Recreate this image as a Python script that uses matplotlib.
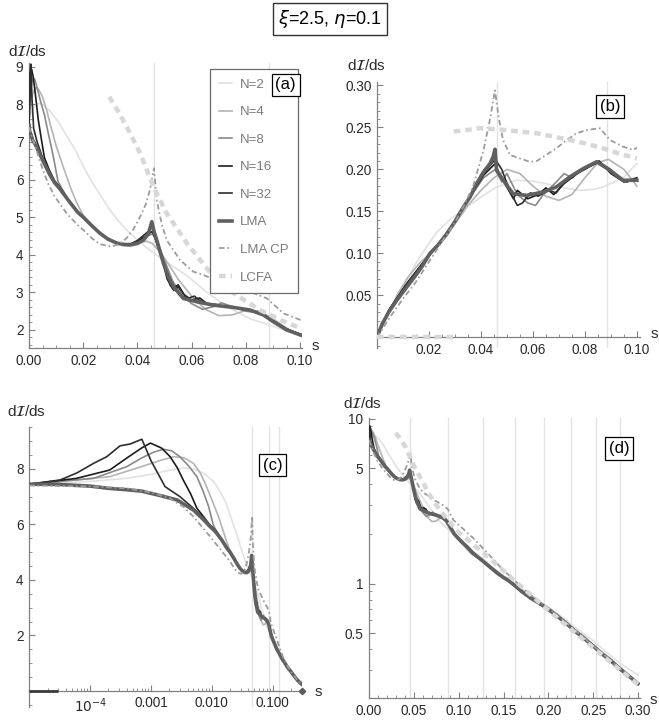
import matplotlib
matplotlib.use("Agg")
import matplotlib.pyplot as plt
from matplotlib.lines import Line2D
from matplotlib.ticker import MultipleLocator, FixedLocator, NullFormatter, FixedFormatter, LogLocator

plt.rcParams['font.family'] = ['Liberation Sans', 'DejaVu Sans']
plt.rcParams['mathtext.fontset'] = 'dejavusans'

# ---------------------------------------------------------------- data
labels = ["N=2", "N=4", "N=8", "N=16", "N=32", "LMA", "LMA CP", "LCFA"]

# harmonic edges
edges = [0.0462, 0.0884, 0.1270, 0.1624, 0.1951, 0.2254, 0.2534, 0.2795, 0.3038]

# spectrum dI/ds (panels a, c, d)
n2_s = [1e-5, 1e-4, 4e-4, 1e-3, 2e-3, 3.4e-3, 5e-3, 7.5e-3, 0.0108, 0.014, 0.017, 0.02, 0.0231,
        0.0262, 0.0293, 0.0324, 0.0354, 0.0391, 0.0446, 0.0508, 0.0582, 0.0656, 0.073, 0.0815,
        0.09, 0.1, 0.11, 0.12, 0.13, 0.14, 0.15, 0.16, 0.17, 0.18, 0.19, 0.2, 0.21, 0.22, 0.23,
        0.24, 0.25, 0.26, 0.27, 0.28, 0.29, 0.3]
n2_y = [7.45, 7.55, 7.66, 7.8, 7.95, 8.03, 8.0, 7.84, 7.54, 7.15, 6.8, 6.35, 5.95,
        5.6, 5.25, 4.95, 4.7, 4.45, 4.12, 3.8, 3.45, 3.0, 2.62, 2.3,
        2.1, 1.85, 1.68, 1.52, 1.37, 1.23, 1.12, 1.03, 0.93, 0.85, 0.78, 0.72, 0.66, 0.6, 0.545,
        0.495, 0.45, 0.405, 0.365, 0.33, 0.303, 0.28]

n4_s = [1e-5, 2.1e-4, 7e-4, 1.5e-3, 2.4e-3, 3.5e-3, 5e-3, 6.5e-3, 7.8e-3, 0.01, 0.0129, 0.0155,
        0.0178, 0.02, 0.0235, 0.0262, 0.029, 0.0324, 0.036, 0.0405, 0.0434, 0.0455, 0.048, 0.051,
        0.055, 0.06, 0.065, 0.07, 0.075, 0.08, 0.085, 0.09, 0.095, 0.1,
        0.105, 0.11, 0.115, 0.12, 0.125, 0.13, 0.135, 0.14, 0.145, 0.15, 0.155, 0.16, 0.165, 0.17,
        0.175, 0.18, 0.185, 0.19, 0.195, 0.2, 0.21, 0.22, 0.23, 0.24, 0.25, 0.26, 0.27, 0.28, 0.29, 0.3]
n4_y = [7.45, 7.72, 8.08, 8.32, 8.44, 8.4, 8.2, 7.85, 7.48, 6.9, 6.28, 5.75,
        5.35, 5.05, 4.75, 4.57, 4.43, 4.32, 4.3, 4.33, 4.36, 4.3, 4.1, 3.8,
        3.35, 2.9, 2.55, 2.38, 2.4, 2.52, 2.5, 2.3, 2.05, 1.84,
        1.72, 1.6, 1.5, 1.45, 1.42, 1.35, 1.25, 1.17, 1.12, 1.1, 1.07, 1.02, 0.95, 0.89,
        0.87, 0.85, 0.82, 0.78, 0.745, 0.715, 0.655, 0.585, 0.525, 0.48, 0.425, 0.385, 0.35, 0.31, 0.278, 0.25]

n8_s = [1e-5, 1.14e-4, 4e-4, 7e-4, 1.1e-3, 1.6e-3, 2.2e-3, 3e-3, 4.2e-3, 5.7e-3, 7.2e-3, 8.9e-3,
        0.0107, 0.0145, 0.02, 0.0262, 0.0324, 0.0373, 0.041, 0.0435, 0.0455, 0.047, 0.05, 0.053,
        0.056, 0.06, 0.064, 0.068, 0.071, 0.075, 0.08, 0.085, 0.09, 0.095, 0.1,
        0.105, 0.11, 0.115, 0.12, 0.125, 0.13, 0.135, 0.14, 0.145, 0.15, 0.155, 0.16, 0.165, 0.17,
        0.175, 0.18, 0.185, 0.19, 0.195, 0.2, 0.21, 0.22, 0.23, 0.24, 0.25, 0.26, 0.27, 0.28, 0.29, 0.3]
n8_y = [7.45, 7.66, 8.08, 8.39, 8.6, 8.71, 8.65, 8.44, 8.1, 7.72, 7.2, 6.64,
        5.95, 5.45, 5.0, 4.57, 4.3, 4.27, 4.38, 4.5, 4.55, 4.4, 3.85, 3.3,
        2.95, 2.7, 2.55, 2.62, 2.72, 2.62, 2.5, 2.45, 2.25, 2.02, 1.88,
        1.76, 1.64, 1.56, 1.48, 1.38, 1.34, 1.28, 1.19, 1.13, 1.1, 1.04, 0.99, 0.96, 0.91,
        0.86, 0.83, 0.8, 0.76, 0.725, 0.7, 0.64, 0.57, 0.52, 0.47, 0.415, 0.38, 0.345, 0.305, 0.277, 0.25]

n16_s = [1e-5, 6e-5, 2.1e-4, 4e-4, 7e-4, 9.8e-4, 1.5e-3, 2.07e-3, 2.7e-3, 3.4e-3, 4.5e-3, 5.7e-3,
         0.0075, 0.0094, 0.0114, 0.0145, 0.0178, 0.02, 0.0235, 0.0262, 0.029, 0.0324, 0.035, 0.0373,
         0.04, 0.042, 0.044, 0.0455, 0.047, 0.049, 0.051, 0.053, 0.055, 0.058, 0.06, 0.063, 0.066,
         0.07, 0.074, 0.078, 0.082, 0.086, 0.09, 0.095, 0.1,
         0.105, 0.11, 0.115, 0.12, 0.125, 0.13, 0.135, 0.14, 0.145, 0.15, 0.155, 0.16, 0.165, 0.17,
         0.175, 0.18, 0.185, 0.19, 0.195, 0.2, 0.21, 0.22, 0.23, 0.24, 0.25, 0.26, 0.27, 0.28, 0.29, 0.3]
n16_y = [7.45, 7.66, 7.96, 8.39, 8.75, 8.93, 8.75, 8.44, 8.05, 7.6, 7.1, 6.58,
         6.25, 5.97, 5.8, 5.47, 5.16, 5.0, 4.76, 4.58, 4.43, 4.31, 4.27, 4.27,
         4.35, 4.45, 4.55, 4.62, 4.35, 3.9, 3.35, 3.1, 3.2, 2.85, 2.8, 2.85, 2.68,
         2.65, 2.62, 2.56, 2.52, 2.4, 2.24, 2.02, 1.89,
         1.77, 1.67, 1.54, 1.46, 1.41, 1.32, 1.27, 1.19, 1.15, 1.08, 1.05, 0.99, 0.96, 0.89,
         0.87, 0.81, 0.8, 0.75, 0.735, 0.69, 0.64, 0.57, 0.52, 0.46, 0.425, 0.37, 0.345, 0.3, 0.278, 0.247]

n32_s = [1e-5, 3.2e-5, 6e-5, 1.14e-4, 1.88e-4, 3.1e-4, 4.6e-4, 7.1e-4, 1.0e-3, 1.71e-3, 3e-3, 5e-3,
         0.0075, 0.0094, 0.0114, 0.0145, 0.0178, 0.02, 0.0235, 0.0262, 0.029, 0.0324, 0.035, 0.0373,
         0.04, 0.042, 0.044, 0.0455, 0.0465, 0.048, 0.05, 0.052, 0.0535, 0.055, 0.057, 0.059, 0.061,
         0.063, 0.066, 0.069, 0.072, 0.075, 0.078, 0.082, 0.086, 0.09, 0.095, 0.1,
         0.105, 0.11, 0.115, 0.12, 0.125, 0.13, 0.135, 0.14, 0.145, 0.15, 0.155, 0.16, 0.165, 0.17,
         0.175, 0.18, 0.185, 0.19, 0.195, 0.2, 0.21, 0.22, 0.23, 0.24, 0.25, 0.26, 0.27, 0.28, 0.29, 0.3]
n32_y = [7.45, 7.6, 7.85, 8.2, 8.44, 8.83, 8.9, 9.07, 8.3, 7.36, 7.0, 6.58,
         6.2, 5.95, 5.78, 5.45, 5.15, 5.0, 4.75, 4.58, 4.43, 4.31, 4.27, 4.28,
         4.38, 4.5, 4.62, 4.78, 4.45, 4.1, 3.7, 3.2, 3.05, 3.15, 2.95, 2.85, 2.9,
         2.78, 2.7, 2.68, 2.62, 2.6, 2.58, 2.52, 2.42, 2.25, 2.03, 1.88,
         1.75, 1.65, 1.56, 1.46, 1.39, 1.34, 1.25, 1.21, 1.13, 1.1, 1.04, 1.01, 0.94, 0.9,
         0.85, 0.83, 0.78, 0.765, 0.72, 0.705, 0.63, 0.58, 0.51, 0.47, 0.415, 0.38, 0.335, 0.308, 0.272, 0.249]

lma_s = [1e-5, 3e-5, 1e-4, 2e-4, 4e-4, 7e-4, 1.3e-3, 2.7e-3, 5e-3, 7.5e-3, 9.4e-3, 0.0114, 0.0145,
         0.0178, 0.02, 0.0235, 0.0262, 0.029, 0.0324, 0.035, 0.0373, 0.04, 0.0422, 0.044, 0.0453,
         0.0462, 0.0475, 0.0496, 0.0515, 0.0533, 0.0569, 0.0619, 0.068, 0.0754, 0.0815, 0.0865,
         0.0901, 0.0951, 0.1,
         0.105, 0.11, 0.115, 0.12, 0.125, 0.13, 0.135, 0.14, 0.145, 0.15, 0.155, 0.16, 0.165, 0.17,
         0.175, 0.18, 0.185, 0.19, 0.195, 0.2, 0.21, 0.22, 0.23, 0.24, 0.25, 0.26, 0.27, 0.28, 0.29, 0.3]
lma_y = [7.45, 7.44, 7.38, 7.3, 7.25, 7.2, 7.06, 6.88, 6.52, 6.15, 5.92, 5.75, 5.45,
         5.14, 5.0, 4.75, 4.57, 4.42, 4.31, 4.27, 4.26, 4.3, 4.39, 4.55, 4.88,
         4.6, 4.3, 3.77, 3.4, 3.15, 2.84, 2.75, 2.66, 2.6, 2.53, 2.4,
         2.22, 2.0, 1.87,
         1.76, 1.66, 1.55, 1.47, 1.40, 1.33, 1.26, 1.20, 1.14, 1.09, 1.05, 1.00, 0.95, 0.90,
         0.86, 0.82, 0.79, 0.76, 0.73, 0.70, 0.635, 0.575, 0.515, 0.465, 0.42, 0.375, 0.34, 0.305, 0.275, 0.248]

lmacp_s = [1e-5, 1e-4, 4e-4, 1e-3, 2e-3, 3.5e-3, 5e-3, 7e-3, 9.4e-3, 0.0139, 0.0178, 0.02, 0.0235,
           0.0262, 0.03, 0.033, 0.036, 0.0385, 0.041, 0.043, 0.0446, 0.0461, 0.0471, 0.049, 0.0508,
           0.0557, 0.0606, 0.0644, 0.073, 0.0815, 0.0877, 0.0939, 0.1,
           0.105, 0.11, 0.115, 0.12, 0.13, 0.14, 0.15, 0.16, 0.17, 0.18, 0.19, 0.2, 0.21, 0.22,
           0.23, 0.24, 0.25, 0.26, 0.27, 0.28, 0.29, 0.3]
lmacp_y = [7.4, 7.37, 7.3, 7.15, 6.95, 6.62, 6.28, 5.9, 5.56, 5.1, 4.8, 4.66, 4.42,
           4.28, 4.22, 4.27, 4.44, 4.68, 5.01, 5.33, 5.72, 6.3, 5.46, 4.8, 4.39,
           3.86, 3.55, 3.46, 3.2, 3.02, 2.84, 2.44, 2.27,
           2.15, 2.02, 1.92, 1.8, 1.58, 1.38, 1.2, 1.08, 0.95, 0.86, 0.78, 0.71, 0.64, 0.58,
           0.52, 0.47, 0.42, 0.38, 0.34, 0.305, 0.275, 0.25]

lcfa_s = [0.0296, 0.033, 0.036, 0.041, 0.0459, 0.0508, 0.0582, 0.068, 0.0754, 0.0852, 0.0926, 0.1,
          0.11, 0.12, 0.13, 0.14, 0.15, 0.16, 0.17, 0.18, 0.19, 0.2, 0.22, 0.24, 0.26, 0.28, 0.3]
lcfa_y = [8.2, 7.8, 7.41, 6.7, 5.81, 5.1, 4.31, 3.42, 2.98, 2.53, 2.27, 2.05,
          1.85, 1.66, 1.5, 1.34, 1.2, 1.07, 0.96, 0.86, 0.77, 0.69, 0.56, 0.455, 0.37, 0.3, 0.245]

# second quantity (panel b)
n2b_s = [0, 0.005, 0.01, 0.0153, 0.02, 0.023, 0.028, 0.0332, 0.04, 0.046, 0.0537, 0.06, 0.065,
         0.072, 0.078, 0.083, 0.087, 0.0947, 0.1]
n2b_y = [0, 0.03, 0.058, 0.09, 0.112, 0.125, 0.14, 0.152, 0.167, 0.179, 0.187, 0.186, 0.183,
         0.178, 0.175, 0.176, 0.179, 0.19, 0.207]
n4b_s = [0, 0.004, 0.008, 0.012, 0.016, 0.02, 0.025, 0.03, 0.035, 0.04, 0.045, 0.05, 0.055,
         0.06, 0.065, 0.07, 0.075, 0.08, 0.085, 0.089, 0.095, 0.1]
n4b_y = [0, 0.026, 0.052, 0.072, 0.087, 0.099, 0.115, 0.135, 0.157, 0.175, 0.19, 0.2, 0.195,
         0.18, 0.168, 0.163, 0.17, 0.19, 0.208, 0.212, 0.2, 0.18]
n8b_s = [0, 0.0045, 0.011, 0.0175, 0.0235, 0.03, 0.0358, 0.041, 0.0455, 0.048, 0.05, 0.054,
         0.058, 0.061, 0.064, 0.069, 0.072, 0.075, 0.079, 0.085, 0.09, 0.095, 0.1]
n8b_y = [0, 0.032, 0.062, 0.088, 0.11, 0.138, 0.167, 0.19, 0.2, 0.185, 0.195, 0.17,
         0.16, 0.157, 0.17, 0.185, 0.195, 0.19, 0.2, 0.21, 0.2, 0.185, 0.188]
n16b_s = [0, 0.0045, 0.011, 0.0175, 0.0235, 0.03, 0.0358, 0.041, 0.0455, 0.047, 0.0525, 0.054,
          0.058, 0.062, 0.065, 0.068, 0.072, 0.077, 0.08, 0.0855, 0.09, 0.095, 0.1]
n16b_y = [0, 0.032, 0.062, 0.088, 0.11, 0.138, 0.167, 0.193, 0.207, 0.195, 0.165, 0.175,
          0.165, 0.17, 0.178, 0.17, 0.183, 0.195, 0.2, 0.21, 0.195, 0.185, 0.19]
n32b_s = [0, 0.0045, 0.011, 0.0175, 0.0235, 0.03, 0.0358, 0.041, 0.0455, 0.048, 0.051, 0.054,
          0.056, 0.059, 0.062, 0.066, 0.069, 0.072, 0.075, 0.079, 0.083, 0.085, 0.09, 0.093, 0.096, 0.1]
n32b_y = [0, 0.032, 0.062, 0.088, 0.11, 0.138, 0.167, 0.195, 0.212, 0.2, 0.175, 0.157,
          0.16, 0.172, 0.168, 0.175, 0.172, 0.185, 0.19, 0.2, 0.205, 0.208, 0.198, 0.19, 0.185, 0.188]
lmab_s = [0, 0.002, 0.0045, 0.0076, 0.011, 0.014, 0.0175, 0.0204, 0.0235, 0.0268, 0.03, 0.0332,
          0.0358, 0.0383, 0.041, 0.0435, 0.0447, 0.0454, 0.046, 0.0486, 0.0524, 0.0575, 0.064,
          0.069, 0.0742, 0.0794, 0.0845, 0.0896, 0.0947, 0.1]
lmab_y = [0, 0.016, 0.03, 0.044, 0.058, 0.07, 0.085, 0.1, 0.11, 0.123, 0.138, 0.155,
          0.167, 0.183, 0.197, 0.207, 0.215, 0.224, 0.199, 0.187, 0.171, 0.169, 0.173,
          0.179, 0.191, 0.201, 0.209, 0.199, 0.187, 0.187]
lmacpb_s = [0, 0.005, 0.01, 0.015, 0.02, 0.025, 0.03, 0.0335, 0.037, 0.041, 0.0435, 0.0454,
            0.0468, 0.0485, 0.0512, 0.0588, 0.0615, 0.065, 0.069, 0.073, 0.0768, 0.081, 0.0858,
            0.0896, 0.0947, 0.0986, 0.1]
lmacpb_y = [0, 0.024, 0.046, 0.066, 0.09, 0.114, 0.137, 0.157, 0.18, 0.223, 0.26, 0.294,
            0.262, 0.235, 0.217, 0.209, 0.21, 0.217, 0.225, 0.235, 0.243, 0.247, 0.249,
            0.235, 0.227, 0.223, 0.226]
lcfab_zero_s = [0.0, 0.0295]
lcfab_s = [0.0295, 0.035, 0.0396, 0.045, 0.0486, 0.055, 0.0614, 0.068, 0.0742, 0.08, 0.087, 0.093, 0.1]
lcfab_y = [0.245, 0.247, 0.249, 0.248, 0.247, 0.245, 0.243, 0.239, 0.235, 0.231, 0.225, 0.219, 0.213]

# low-s stub on the log axis of panel (c)
origin_stub_s = [1e-5, 3e-5]

# ---------------------------------------------------------------- styles
styles = {
    "N=2":    dict(color="#e2e2e2", lw=1.2),
    "N=4":    dict(color="#b4b4b4", lw=1.2),
    "N=8":    dict(color="#8a8a8a", lw=1.2),
    "N=16":   dict(color="#1c1c1c", lw=1.2),
    "N=32":   dict(color="#2e2e2e", lw=1.2),
    "LMA":    dict(color="#606060", lw=2.6),
    "LMA CP": dict(color="#9c9c9c", lw=1.3, dashes=(3.0, 1.6, 0.9, 1.6)),
    "LCFA":   dict(color="#d7d7d7", lw=3.2, dashes=(1.5, 1.1)),
}

spec = {
    "N=2": (n2_s, n2_y), "N=4": (n4_s, n4_y), "N=8": (n8_s, n8_y),
    "N=16": (n16_s, n16_y), "N=32": (n32_s, n32_y), "LMA": (lma_s, lma_y),
    "LMA CP": (lmacp_s, lmacp_y), "LCFA": (lcfa_s, lcfa_y),
}
spec_b = {
    "N=2": (n2b_s, n2b_y), "N=4": (n4b_s, n4b_y), "N=8": (n8b_s, n8b_y),
    "N=16": (n16b_s, n16b_y), "N=32": (n32b_s, n32b_y), "LMA": (lmab_s, lmab_y),
    "LMA CP": (lmacpb_s, lmacpb_y), "LCFA": (lcfab_s, lcfab_y),
}

AXC = "#808080"
TXC = "#2a2a2a"

W, H = 659, 720
fig = plt.figure(figsize=(W / 100, H / 100), dpi=100)


def px_axes(l, t, r, b):
    return fig.add_axes([l / W, 1 - b / H, (r - l) / W, (b - t) / H])


def style_axes(ax, zero_x_axis=False):
    ax.patch.set_alpha(0)
    for sp in ("top", "right"):
        ax.spines[sp].set_visible(False)
    for sp in ("left", "bottom"):
        ax.spines[sp].set_color(AXC)
        ax.spines[sp].set_linewidth(0.9)
    if zero_x_axis:
        ax.spines["bottom"].set_position(("data", 0))
    ax.tick_params(which="major", direction="in", length=4.5, width=0.8, color=AXC,
                   labelsize=9.8, labelcolor=TXC, pad=4)
    ax.tick_params(which="minor", direction="in", length=2.5, width=0.6, color=AXC)


def draw_edges(ax, vals):
    for e in vals:
        ax.axvline(e, color="#e2e2e2", lw=1.0, zorder=0)


def draw_series(ax, data, names=labels):
    for k, name in enumerate(labels):
        if name not in names:
            continue
        s, y = data[name]
        ax.plot(s, y, solid_joinstyle="round", zorder=2 + k, **styles[name])


def tag(ax, text, x, y):
    ax.text(x, y, text, transform=ax.transAxes, fontsize=12, color="black",
            ha="center", va="center", zorder=20,
            bbox=dict(boxstyle="square,pad=0.22", fc="white", ec="black", lw=0.9))


def ylabel(x, y):
    fig.text(x / W, 1 - y / H, r"d$\mathcal{I}$/ds", fontsize=11, color=TXC,
             ha="left", va="center")


def slabel(x, y):
    fig.text(x / W, 1 - y / H, "s", fontsize=11, color=TXC, ha="left", va="center")


# ---------------------------------------------------------------- (a)
ax_a = px_axes(29, 63, 302, 348)
style_axes(ax_a)
ax_a.set_xlim(0, 0.1007)
ax_a.set_ylim(1.52, 9.1)
draw_edges(ax_a, edges[:2])
draw_series(ax_a, spec)
ax_a.xaxis.set_major_locator(FixedLocator([0, 0.02, 0.04, 0.06, 0.08, 0.1]))
ax_a.xaxis.set_major_formatter(FixedFormatter(["0.00", "0.02", "0.04", "0.06", "0.08", "0.10"]))
ax_a.xaxis.set_minor_locator(MultipleLocator(0.005))
ax_a.yaxis.set_major_locator(FixedLocator([2, 3, 4, 5, 6, 7, 8, 9]))
ax_a.yaxis.set_minor_locator(MultipleLocator(0.2))
handles = [Line2D([], [], **styles[n]) for n in labels]
leg = ax_a.legend(handles, labels, loc="upper right", bbox_to_anchor=(0.985, 0.978),
                  fontsize=9.5, labelcolor="#7a7a7a", frameon=True, fancybox=False,
                  edgecolor="#6a6a6a", framealpha=1, handlelength=1.0, handletextpad=0.6,
                  labelspacing=1.16, borderpad=0.7, borderaxespad=0)
leg.get_frame().set_linewidth(0.9)
leg.set_zorder(15)
tag(ax_a, "(a)", 0.94, 0.923)
ylabel(8, 52)
slabel(312, 346)

# ---------------------------------------------------------------- (b)
ax_b = px_axes(377, 82, 640, 348)
style_axes(ax_b, zero_x_axis=True)
ax_b.set_xlim(0, 0.1012)
ax_b.set_ylim(-0.0127, 0.304)
draw_edges(ax_b, edges[:2])
ax_b.plot(lcfab_zero_s, [0, 0], zorder=9, **styles["LCFA"])
draw_series(ax_b, spec_b)
ax_b.xaxis.set_major_locator(FixedLocator([0.02, 0.04, 0.06, 0.08, 0.1]))
ax_b.xaxis.set_major_formatter(FixedFormatter(["0.02", "0.04", "0.06", "0.08", "0.10"]))
ax_b.xaxis.set_minor_locator(MultipleLocator(0.005))
ax_b.yaxis.set_major_locator(FixedLocator([0.05, 0.1, 0.15, 0.2, 0.25, 0.3]))
ax_b.yaxis.set_major_formatter(FixedFormatter(["0.05", "0.10", "0.15", "0.20", "0.25", "0.30"]))
ax_b.yaxis.set_minor_locator(MultipleLocator(0.01))
tag(ax_b, "(b)", 0.886, 0.908)
ylabel(347, 65)
slabel(651, 334)

# ---------------------------------------------------------------- (c)
ax_c = px_axes(29.3, 427, 302, 707)
style_axes(ax_c, zero_x_axis=True)
ax_c.set_xscale("log")
ax_c.set_xlim(1e-5, 0.305)
ax_c.set_ylim(-0.58, 9.51)
draw_edges(ax_c, edges[:3])
draw_series(ax_c, spec, names=labels[:7])
ax_c.plot(origin_stub_s, [0, 0], color="#3a3a3a", lw=2.0, zorder=12, solid_capstyle="butt")
ax_c.plot([0.3], [0], marker="D", ms=3.2, color="#5a5a5a", zorder=12, clip_on=False)
ax_c.xaxis.set_major_locator(FixedLocator([1e-4, 1e-3, 1e-2, 1e-1]))
ax_c.xaxis.set_major_formatter(FixedFormatter([r"$10^{-4}$", "0.001", "0.010", "0.100"]))
ax_c.xaxis.set_minor_locator(LogLocator(base=10, subs=(2, 3, 4, 5, 6, 7, 8, 9), numticks=20))
ax_c.xaxis.set_minor_formatter(NullFormatter())
ax_c.yaxis.set_major_locator(FixedLocator([2, 4, 6, 8]))
ax_c.yaxis.set_minor_locator(MultipleLocator(0.5))
tag(ax_c, "(c)", 0.892, 0.864)
ylabel(7, 412)
slabel(315, 692)

# ---------------------------------------------------------------- (d)
ax_d = px_axes(369, 418, 640, 698)
style_axes(ax_d)
ax_d.set_yscale("log")
ax_d.set_xlim(0, 0.3022)
ax_d.set_ylim(0.203, 10.1)
draw_edges(ax_d, edges)
draw_series(ax_d, spec)
ax_d.xaxis.set_major_locator(FixedLocator([0, 0.05, 0.1, 0.15, 0.2, 0.25, 0.3]))
ax_d.xaxis.set_major_formatter(FixedFormatter(["0.00", "0.05", "0.10", "0.15", "0.20", "0.25", "0.30"]))
ax_d.xaxis.set_minor_locator(MultipleLocator(0.01))
ax_d.yaxis.set_major_locator(FixedLocator([0.5, 1, 5, 10]))
ax_d.yaxis.set_major_formatter(FixedFormatter(["0.5", "1", "5", "10"]))
ax_d.yaxis.set_minor_locator(LogLocator(base=10, subs=(2, 3, 4, 6, 7, 8, 9), numticks=20))
ax_d.yaxis.set_minor_formatter(NullFormatter())
tag(ax_d, "(d)", 0.9225, 0.891)
ylabel(343, 403)
slabel(650, 700)

# ---------------------------------------------------------------- title
fig.text(330 / W, 1 - 19 / H, r"$\xi$=2.5, $\eta$=0.1", fontsize=13, color="black",
         ha="center", va="center",
         bbox=dict(boxstyle="square,pad=0.3", fc="white", ec="#333333", lw=1.0))

fig.savefig("out.png", dpi=100)
